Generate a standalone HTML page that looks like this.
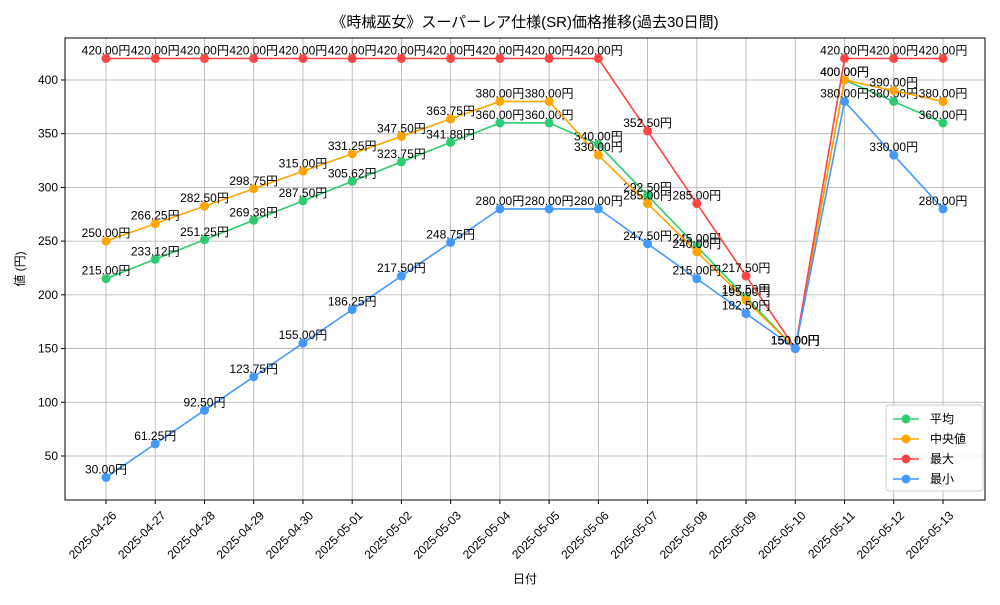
<!DOCTYPE html>
<html><head><meta charset="utf-8">
<style>
body{margin:0;background:#fff;}
svg text{font-family:"Liberation Sans","Noto Sans CJK JP",sans-serif;}
</style></head>
<body>
<svg id="chart" width="1000" height="600" viewBox="0 0 1000 600" xmlns="http://www.w3.org/2000/svg">
<rect width="1000" height="600" fill="#fff"/>
<text x="525" y="27" text-anchor="middle" font-size="15">《時械巫女》スーパーレア仕様(SR)価格推移(過去30日間)</text>
<g id="grid"></g>
<g id="series"></g>
<rect x="65" y="38" width="920" height="462" fill="none" stroke="#000" stroke-width="1"/>
<text x="525" y="583" text-anchor="middle" font-size="12">日付</text>
<text transform="translate(24,269) rotate(-90)" text-anchor="middle" font-size="12">値 (円)</text>
<g id="legend"></g>
</svg>
<script>
const dates=["2025-04-26","2025-04-27","2025-04-28","2025-04-29","2025-04-30","2025-05-01","2025-05-02","2025-05-03","2025-05-04","2025-05-05","2025-05-06","2025-05-07","2025-05-08","2025-05-09","2025-05-10","2025-05-11","2025-05-12","2025-05-13"];
const meanVals=[215,233.12,251.25,269.38,287.5,305.62,323.75,341.88,360,360,340,292.5,245,197.5,150,400,380,360];
const medianVals=[250,266.25,282.5,298.75,315,331.25,347.5,363.75,380,380,330,285,240,195,150,400,390,380];
const maxVals=[420,420,420,420,420,420,420,420,420,420,420,352.5,285,217.5,150,420,420,420];
const minVals=[30,61.25,92.5,123.75,155,186.25,217.5,248.75,280,280,280,247.5,215,182.5,150,380,330,280];
const yTicks=[50,100,150,200,250,300,350,400];
const seriesNames=["平均","中央値","最大","最小"];
const NS="http://www.w3.org/2000/svg";
const X0=106,X1=943,L=65,R=985,T=38,B=500;
function xs(i){return X0+(X1-X0)*i/(dates.length-1);}
function ys(v){return 509.7-v*1.0743;}
function mk(tag,attrs,parent){const e=document.createElementNS(NS,tag);for(const k in attrs)e.setAttribute(k,attrs[k]);parent.appendChild(e);return e;}
const grid=document.getElementById('grid');
yTicks.forEach(v=>{
  const y=ys(v);
  const gl=mk('line',{x1:L,x2:R,y1:y,y2:y,stroke:'#b0b0b0','stroke-width':0.8},grid);
  
  
  mk('line',{x1:L-4,x2:L,y1:y,y2:y,stroke:'#000'},grid);
  const t=mk('text',{x:L-7,y:y+4,'text-anchor':'end','font-size':12},grid);
  
  
  t.textContent=v;
});
dates.forEach((d,i)=>{
  const x=xs(i);
  const gl=mk('line',{x1:x,x2:x,y1:T,y2:B,stroke:'#b0b0b0','stroke-width':0.8},grid);
  
  
  mk('line',{x1:x,x2:x,y1:B,y2:B+4,stroke:'#000'},grid);
  const t=mk('text',{transform:`translate(${x+5},${B+10}) rotate(-45)`,'text-anchor':'end','font-size':12,'dominant-baseline':'hanging'},grid);
  
  
  t.textContent=d;
});
const sg=document.getElementById('series');
const all=[[meanVals,'#2ecc71','mean'],[medianVals,'#ffa500','median'],[maxVals,'#ff4444','max'],[minVals,'#4499ff','min']];
all.forEach(([vals,col,nm])=>{
  const g=mk('g',{},sg);
  
  
  const p=mk('polyline',{points:vals.map((v,i)=>xs(i)+','+ys(v)).join(' '),fill:'none',stroke:col,'stroke-width':1.6},g);
  
  
  vals.forEach((v,i)=>{
    const c=mk('circle',{cx:xs(i),cy:ys(v),r:4.5,fill:col},g);
    
    
  });
  vals.forEach((v,i)=>{
    const t=mk('text',{x:xs(i),y:ys(v)-4,'text-anchor':'middle','font-size':12,fill:'#000'},g);
    
    
    t.textContent=v.toFixed(2)+'円';
  });
});
const lg=document.getElementById('legend');
mk('rect',{x:886,y:405,width:97,height:86,rx:3,fill:'#fff','fill-opacity':0.85,stroke:'#ccc'},lg);
all.forEach(([v,col,nm],i)=>{
  const y=419+i*20;
  const it=mk('g',{},lg);
  
  
  mk('line',{x1:893,x2:919,y1:y,y2:y,stroke:col,'stroke-width':1.6},it);
  mk('circle',{cx:906,cy:y,r:4.5,fill:col},it);
  const t=mk('text',{x:930,y:y+4,'font-size':12},it);
  t.textContent=seriesNames[i];
});
</script>
</body></html>
